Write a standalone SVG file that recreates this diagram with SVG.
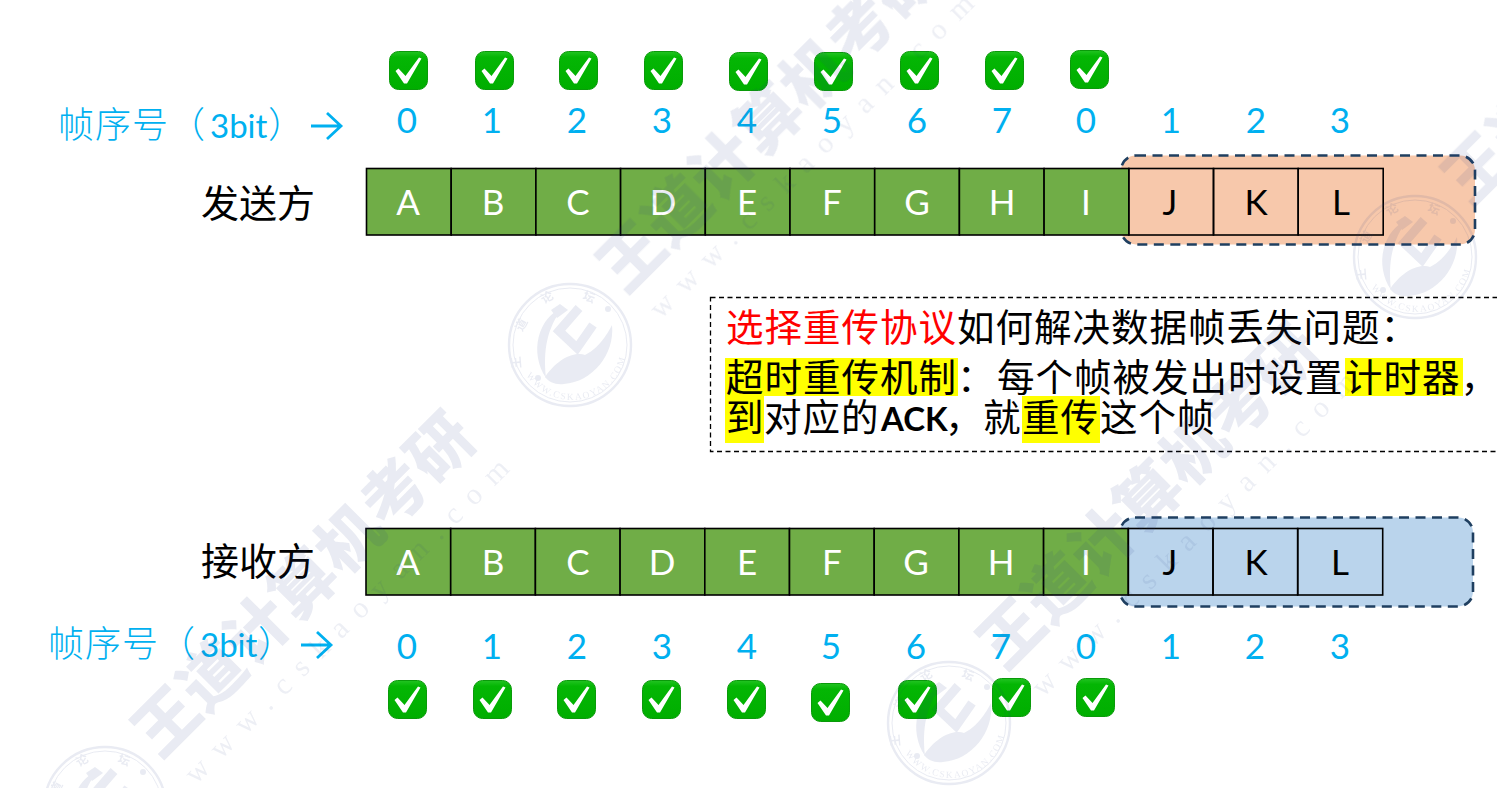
<svg xmlns="http://www.w3.org/2000/svg" width="1497" height="788" viewBox="0 0 1497 788">
<style>
.num{font:35px Lato,"Noto Sans",sans-serif;fill:#00B0F0;text-anchor:middle}
.cell{stroke:#000;stroke-width:1.6}
.g{fill:#70AD47}
.none{fill:none}
.lt{font:35px Lato,"Noto Sans",sans-serif;text-anchor:middle}
.w{fill:#fff}
.k{fill:#000}
.cjk{font-family:"Noto Sans CJK SC",sans-serif;font-size:37.5px;letter-spacing:1px}
.lab{font-family:"Noto Sans CJK SC",sans-serif;font-size:36px;letter-spacing:1px;font-weight:300;fill:#00B0F0}
.bit{font-family:Lato,sans-serif;font-weight:400;font-size:33px;letter-spacing:0}
.side{font-family:"Noto Sans CJK SC",sans-serif;font-size:38px;fill:#000}
.win{stroke:#1F3F60;stroke-width:2.6;stroke-dasharray:10 6.5}
.hl{fill:#FFFF00}
.wm{font-family:"Noto Sans CJK SC",sans-serif;font-weight:900;font-size:64px;letter-spacing:.5px;fill:#2B3F85}
.wu{font-family:"Liberation Serif",serif;font-size:30px;fill:#2B3F85;opacity:.8}
.seal{fill:#2B3F85}
.sl{fill:none;stroke:#2B3F85}
.st{fill:#2B3F85;font-family:"Noto Sans CJK SC",sans-serif;font-size:12px;font-weight:700}
.arrow{fill:none;stroke:#00B0F0;stroke-width:2.8}
</style>
<defs>
<linearGradient id="gr" x1="0" y1="0" x2="0" y2="1"><stop offset="0" stop-color="#22C422"/><stop offset=".15" stop-color="#04B604"/><stop offset="1" stop-color="#00AE00"/></linearGradient>
<g id="chk">
<rect x=".5" y=".5" width="38" height="38" rx="9" fill="url(#gr)" stroke="#0A9A0A"/>
<polygon points="6.500,20 9.500,17.500 16.500,25 30,6.500 32.500,7.500 18,32.500 15,32.500" fill="#fff"/>
</g>
<path id="botArc" d="M515,345a55,55 0 0 0 110,0" fill="none"/>
<g id="sealG" transform="translate(-568,-345)">
<circle class="sl" cx="568" cy="345" r="61" stroke-width="2.4"/>
<circle class="sl" cx="568" cy="345" r="57" stroke-width="1"/>
<path class="seal" d="M561,307C536,318 527,352 544,378C541,350 545,328 561,307Z"/>
<path class="sl" stroke-width="9" d="M577,308L557,331L575,348L591,325"/>
<path class="seal" d="M543,377C558,356 574,352 583,355C600,347 610,325 610,325C613,355 590,382 562,384C553,385 547,382 543,377Z"/>
<circle class="seal" cx="606" cy="309" r="3"/><circle class="seal" cx="536" cy="378" r="3"/>
<path class="seal" d="M549,310L558,304L566,310L555,318Z"/>
<text class="st" x="542" y="304" transform="rotate(-30 542 304)">论</text>
<text class="st" x="580" y="299" transform="rotate(20 580 299)">坛</text>
<text class="st" x="520" y="332" transform="rotate(-60 520 332)">道</text>
<text class="st" x="519" y="368" transform="rotate(-95 519 368)">王</text>
<text class="seal" font-family="Liberation Serif,serif" font-size="9.500" letter-spacing="1.500"><textPath href="#botArc" startOffset="32">WWW.CSKAOYAN.COM</textPath></text>
</g>
</defs>

<g id="sender-window"><rect class="win" x="1121" y="155.500" width="354" height="89" rx="15" fill="#F7C8AB"/></g>
<g id="receiver-window"><rect class="win" x="1120" y="517.500" width="353" height="89" rx="15" fill="#BAD4EC"/></g>

<g id="sender-frames">
<g id="s-A"><rect class="cell g" x="366.500" y="168.500" width="84.700" height="66.500"/><text class="lt w" x="408" y="215">A</text></g>
<g id="s-B"><rect class="cell g" x="451.200" y="168.500" width="84.700" height="66.500"/><text class="lt w" x="493" y="215">B</text></g>
<g id="s-C"><rect class="cell g" x="535.900" y="168.500" width="84.700" height="66.500"/><text class="lt w" x="578" y="215">C</text></g>
<g id="s-D"><rect class="cell g" x="620.600" y="168.500" width="84.700" height="66.500"/><text class="lt w" x="663" y="215">D</text></g>
<g id="s-E"><rect class="cell g" x="705.300" y="168.500" width="84.700" height="66.500"/><text class="lt w" x="747" y="215">E</text></g>
<g id="s-F"><rect class="cell g" x="790" y="168.500" width="84.700" height="66.500"/><text class="lt w" x="832" y="215">F</text></g>
<g id="s-G"><rect class="cell g" x="874.700" y="168.500" width="84.700" height="66.500"/><text class="lt w" x="917" y="215">G</text></g>
<g id="s-H"><rect class="cell g" x="959.400" y="168.500" width="84.700" height="66.500"/><text class="lt w" x="1002" y="215">H</text></g>
<g id="s-I"><rect class="cell g" x="1044.100" y="168.500" width="84.700" height="66.500"/><text class="lt w" x="1086" y="215">I</text></g>
<g id="s-J"><rect class="cell none" x="1128.800" y="168.500" width="84.700" height="66.500"/><text class="lt k" x="1170" y="215">J</text></g>
<g id="s-K"><rect class="cell none" x="1213.500" y="168.500" width="84.700" height="66.500"/><text class="lt k" x="1256" y="215">K</text></g>
<g id="s-L"><rect class="cell none" x="1298.200" y="168.500" width="85" height="66.500"/><text class="lt k" x="1341" y="215">L</text></g>
</g>

<g id="receiver-frames">
<g id="r-A"><rect class="cell g" x="366" y="528.500" width="84.700" height="66.500"/><text class="lt w" x="408" y="575">A</text></g>
<g id="r-B"><rect class="cell g" x="450.700" y="528.500" width="84.700" height="66.500"/><text class="lt w" x="493" y="575">B</text></g>
<g id="r-C"><rect class="cell g" x="535.400" y="528.500" width="84.700" height="66.500"/><text class="lt w" x="578" y="575">C</text></g>
<g id="r-D"><rect class="cell g" x="620.100" y="528.500" width="84.700" height="66.500"/><text class="lt w" x="662" y="575">D</text></g>
<g id="r-E"><rect class="cell g" x="704.800" y="528.500" width="84.700" height="66.500"/><text class="lt w" x="747" y="575">E</text></g>
<g id="r-F"><rect class="cell g" x="789.500" y="528.500" width="84.700" height="66.500"/><text class="lt w" x="832" y="575">F</text></g>
<g id="r-G"><rect class="cell g" x="874.200" y="528.500" width="84.700" height="66.500"/><text class="lt w" x="916" y="575">G</text></g>
<g id="r-H"><rect class="cell g" x="958.900" y="528.500" width="84.700" height="66.500"/><text class="lt w" x="1001" y="575">H</text></g>
<g id="r-I"><rect class="cell g" x="1043.600" y="528.500" width="84.700" height="66.500"/><text class="lt w" x="1086" y="575">I</text></g>
<g id="r-J"><rect class="cell none" x="1128.300" y="528.500" width="84.700" height="66.500"/><text class="lt k" x="1170" y="575">J</text></g>
<g id="r-K"><rect class="cell none" x="1213" y="528.500" width="84.700" height="66.500"/><text class="lt k" x="1256" y="575">K</text></g>
<g id="r-L"><rect class="cell none" x="1297.700" y="528.500" width="85" height="66.500"/><text class="lt k" x="1340" y="575">L</text></g>
</g>

<g id="sender-label"><text class="side" x="201" y="217">发送方</text></g>
<g id="receiver-label"><text class="side" x="201" y="575">接收方</text></g>

<g id="seq-top">
<text class="lab" x="58" y="138">帧序号（<tspan class="bit" x="210">3bit</tspan><tspan x="268">）</tspan></text>
<text class="num" x="407" y="133">0</text><text class="num" x="492" y="133">1</text><text class="num" x="577" y="133">2</text><text class="num" x="662" y="133">3</text><text class="num" x="747" y="133">4</text><text class="num" x="832" y="133">5</text><text class="num" x="917" y="133">6</text><text class="num" x="1002" y="133">7</text><text class="num" x="1086" y="133">0</text><text class="num" x="1171" y="133">1</text><text class="num" x="1256" y="133">2</text><text class="num" x="1340" y="133">3</text>
</g>
<g id="seq-bottom">
<text class="lab" x="48" y="657">帧序号（<tspan class="bit" x="200">3bit</tspan><tspan x="258">）</tspan></text>
<text class="num" x="407" y="659">0</text><text class="num" x="492" y="659">1</text><text class="num" x="577" y="659">2</text><text class="num" x="662" y="659">3</text><text class="num" x="747" y="659">4</text><text class="num" x="831" y="659">5</text><text class="num" x="916" y="659">6</text><text class="num" x="1001" y="659">7</text><text class="num" x="1086" y="659">0</text><text class="num" x="1171" y="659">1</text><text class="num" x="1255" y="659">2</text><text class="num" x="1340" y="659">3</text>
</g>

<g id="connectors">
<path class="arrow" d="M311,126H341M327,113L341,126L327,139"/>
<path class="arrow" d="M301,645H331M317,632L331,645L317,658"/>
</g>

<g id="checks-top">
<use href="#chk" x="389" y="51"/><use href="#chk" x="475" y="51"/><use href="#chk" x="559" y="51"/><use href="#chk" x="644" y="51"/><use href="#chk" x="729" y="52"/><use href="#chk" x="814" y="52"/><use href="#chk" x="900" y="51"/><use href="#chk" x="985" y="51"/><use href="#chk" x="1070" y="50"/>
</g>
<g id="checks-bottom">
<use href="#chk" x="388" y="680"/><use href="#chk" x="473" y="680"/><use href="#chk" x="557" y="680"/><use href="#chk" x="642" y="680"/><use href="#chk" x="727" y="680"/><use href="#chk" x="811" y="683"/><use href="#chk" x="898" y="680"/><use href="#chk" x="992" y="678"/><use href="#chk" x="1076" y="678"/>
</g>

<g id="note">
<rect x="710.500" y="297.500" width="800" height="154" fill="none" stroke="#000" stroke-width="1.300" stroke-dasharray="5 3.500"/>
<rect class="hl" x="725" y="358" width="233" height="38"/>
<rect class="hl" x="1345" y="358" width="118" height="38"/>
<rect class="hl" x="725" y="396" width="39" height="47"/>
<rect class="hl" x="1022" y="396" width="78" height="47"/>
<text class="cjk" x="726" y="341" fill="#FF0000">选择重传协议<tspan fill="#000">如何解决数据帧丢失问题：</tspan></text>
<text class="cjk" x="726" y="391" fill="#000">超时重传机制：<tspan x="997">每个帧被发出时设置</tspan><tspan x="1345">计时器，</tspan></text>
<text class="cjk" x="726" y="431" fill="#000">到<tspan x="764">对应的</tspan><tspan x="881" font-family="Lato,sans-serif" font-weight="700" font-size="33" letter-spacing="0">ACK</tspan><tspan x="945">，</tspan><tspan x="983">就</tspan><tspan x="1022">重传</tspan><tspan x="1100">这个帧</tspan></text>
</g>

<g id="watermark" opacity=".105">
<text class="wm" transform="translate(160,760) rotate(-45)">王道计算机考研</text>
<text class="wm" transform="translate(625,295) rotate(-45)">王道计算机考研</text>
<text class="wm" transform="translate(1005,672) rotate(-45)">王道计算机考研</text>
<text class="wm" transform="translate(1470,207) rotate(-45)">王道计算机考研</text>
<text class="wu" transform="translate(196,785) rotate(-45)" textLength="445">www.cskaoyan.com</text>
<text class="wu" transform="translate(661,320) rotate(-45)" textLength="445">www.cskaoyan.com</text>
<text class="wu" transform="translate(1043,698) rotate(-45)" textLength="445">www.cskaoyan.com</text>
<use href="#sealG" x="570" y="345"/>
<use href="#sealG" x="1415" y="257"/>
<use href="#sealG" x="949" y="723"/>
<use href="#sealG" x="105" y="808"/>
</g>
</svg>
